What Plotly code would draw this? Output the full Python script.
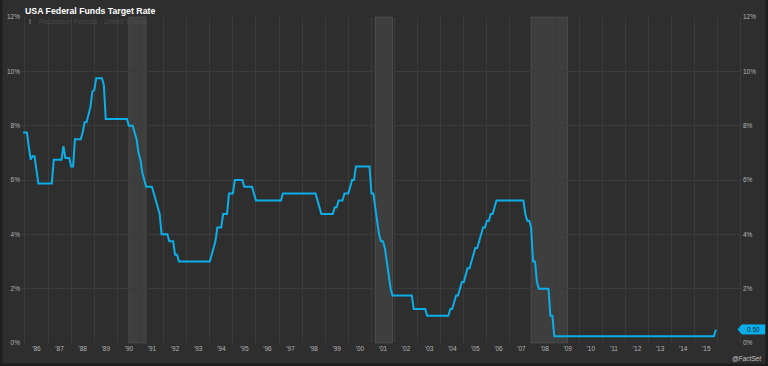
import pandas as pd
import plotly.graph_objects as go

# ---------------- data (monthly, first value = Dec 1985) ----------------
start_month = "1985-12-01"
rate_1980s = [
    7.75,                                                                        # Dec 1985
    7.75, 7.75, 7.25, 6.75, 6.875, 6.875, 6.375, 5.875, 5.875, 5.875, 5.875, 5.875,  # 1986
    5.875, 5.875, 5.875, 6.75, 6.75, 6.75, 6.75, 6.75, 7.25, 6.8125, 6.8125, 6.8125,  # 1987
    6.5, 6.5, 7.5, 7.5, 7.5, 7.5, 7.75, 8.125, 8.125, 8.375, 8.6875, 9.25,     # 1988
    9.3125, 9.75, 9.75, 9.75, 9.75, 9.5, 8.25, 8.25, 8.25, 8.25, 8.25, 8.25,   # 1989
]
rate_1990s = [
    8.25, 8.25, 8.25, 8.25, 8.25, 8.25, 8.0, 8.0, 8.0, 7.75, 7.5, 7.0,          # 1990
    6.75, 6.25, 6.0, 5.75, 5.75, 5.75, 5.75, 5.5, 5.25, 5.0, 4.75, 4.0,         # 1991
    4.0, 4.0, 4.0, 3.75, 3.75, 3.75, 3.25, 3.25, 3.0, 3.0, 3.0, 3.0,            # 1992
    3.0, 3.0, 3.0, 3.0, 3.0, 3.0, 3.0, 3.0, 3.0, 3.0, 3.0, 3.0,                 # 1993
    3.0, 3.25, 3.5, 3.75, 4.25, 4.25, 4.25, 4.75, 4.75, 4.75, 5.5, 5.5,         # 1994
    5.5, 6.0, 6.0, 6.0, 6.0, 6.0, 5.75, 5.75, 5.75, 5.75, 5.75, 5.5,            # 1995
    5.25, 5.25, 5.25, 5.25, 5.25, 5.25, 5.25, 5.25, 5.25, 5.25, 5.25, 5.25,     # 1996
    5.25, 5.25, 5.5, 5.5, 5.5, 5.5, 5.5, 5.5, 5.5, 5.5, 5.5, 5.5,               # 1997
    5.5, 5.5, 5.5, 5.5, 5.5, 5.5, 5.5, 5.5, 5.25, 5.0, 4.75, 4.75,              # 1998
    4.75, 4.75, 4.75, 4.75, 4.75, 5.0, 5.0, 5.25, 5.25, 5.25, 5.5, 5.5,         # 1999
]
rate_2000s = [
    5.5, 5.75, 6.0, 6.0, 6.5, 6.5, 6.5, 6.5, 6.5, 6.5, 6.5, 6.5,                # 2000
    5.5, 5.5, 5.0, 4.5, 4.0, 3.75, 3.75, 3.5, 3.0, 2.5, 2.0, 1.75,              # 2001
    1.75, 1.75, 1.75, 1.75, 1.75, 1.75, 1.75, 1.75, 1.75, 1.75, 1.25, 1.25,     # 2002
    1.25, 1.25, 1.25, 1.25, 1.25, 1.0, 1.0, 1.0, 1.0, 1.0, 1.0, 1.0,            # 2003
    1.0, 1.0, 1.0, 1.0, 1.0, 1.25, 1.25, 1.5, 1.75, 1.75, 2.0, 2.25,            # 2004
    2.25, 2.5, 2.75, 2.75, 3.0, 3.25, 3.5, 3.5, 3.75, 4.0, 4.25, 4.25,          # 2005
    4.5, 4.5, 4.75, 4.75, 5.0, 5.25, 5.25, 5.25, 5.25, 5.25, 5.25, 5.25,        # 2006
    5.25, 5.25, 5.25, 5.25, 5.25, 5.25, 5.25, 5.25, 4.75, 4.5, 4.5, 4.25,       # 2007
    3.0, 3.0, 2.25, 2.0, 2.0, 2.0, 2.0, 2.0, 2.0, 1.0, 1.0, 0.25,               # 2008
    0.25, 0.25, 0.25, 0.25, 0.25, 0.25, 0.25, 0.25, 0.25, 0.25, 0.25, 0.25,     # 2009
]
rate_2010s = [
    0.25, 0.25, 0.25, 0.25, 0.25, 0.25, 0.25, 0.25, 0.25, 0.25, 0.25, 0.25,     # 2010
    0.25, 0.25, 0.25, 0.25, 0.25, 0.25, 0.25, 0.25, 0.25, 0.25, 0.25, 0.25,     # 2011
    0.25, 0.25, 0.25, 0.25, 0.25, 0.25, 0.25, 0.25, 0.25, 0.25, 0.25, 0.25,     # 2012
    0.25, 0.25, 0.25, 0.25, 0.25, 0.25, 0.25, 0.25, 0.25, 0.25, 0.25, 0.25,     # 2013
    0.25, 0.25, 0.25, 0.25, 0.25, 0.25, 0.25, 0.25, 0.25, 0.25, 0.25, 0.25,     # 2014
    0.25, 0.25, 0.25, 0.25, 0.25, 0.25, 0.25, 0.25, 0.25, 0.25, 0.25, 0.5,      # 2015
]
recession_start = ["1990-07-01", "2001-03-01", "2007-12-01"]
recession_end = ["1991-03-31", "2001-11-30", "2009-06-30"]
years = list(range(1986, 2016))
year_labels = ["'" + str(y)[2:] for y in years]
y_ticks = [0, 2, 4, 6, 8, 10, 12]
title_text = "USA Federal Funds Target Rate"
legend_text = "Recession Periods - United States"
source_text = "@FactSet"

rate = rate_1980s + rate_1990s + rate_2000s + rate_2010s
dates = pd.date_range(start_month, periods=len(rate), freq="MS")

# ---------------- styling ----------------
BG = "#2e2e2e"
GRID = "#3b3b3b"
LINE = "#0aaee8"
TICK = "#b4b4b4"
FONT = "Arial, Liberation Sans, sans-serif"

fig = go.Figure()
fig.add_trace(go.Scatter(x=dates, y=rate, mode="lines",
                         line=dict(color=LINE, width=2), hoverinfo="skip",
                         showlegend=False))
# invisible trace for right axis
fig.add_trace(go.Scatter(x=[dates[0]], y=[rate[0]], yaxis="y2", mode="markers",
                         marker=dict(opacity=0), showlegend=False, hoverinfo="skip"))

shapes = []
for s, e in zip(recession_start, recession_end):
    shapes.append(dict(type="rect", xref="x", yref="paper", x0=s, x1=e, y0=0, y1=1,
                       fillcolor="rgba(255,255,255,0.08)",
                       line=dict(color="rgba(255,255,255,0.10)", width=1), layer="below"))
# legend icon
shapes.append(dict(type="rect", xref="paper", yref="paper", xsizemode="pixel", ysizemode="pixel",
                   xanchor=0, yanchor=1, x0=8, x1=10, y0=-2, y1=-7,
                   fillcolor="#555555", line=dict(width=0)))
# last value badge
shapes.append(dict(type="path", xref="paper", yref="y", xsizemode="pixel", ysizemode="pixel",
                   xanchor=1, yanchor=rate[-1],
                   path="M -4,0 L 0,4.5 L 23,4.5 L 23,-4.5 L 0,-4.5 Z",
                   fillcolor=LINE, line=dict(color=LINE, width=1)))
# outer frame
shapes.append(dict(type="rect", xref="paper", yref="paper", xsizemode="pixel", ysizemode="pixel",
                   xanchor=0, yanchor=0, x0=-20, x1=746, y0=-22, y1=348,
                   line=dict(color="#1e1e1e", width=3), fillcolor="rgba(0,0,0,0)"))

annotations = [
    dict(text="<b>" + title_text + "</b>", xref="paper", yref="paper", x=0, y=1,
         xanchor="left", yanchor="middle", xshift=2, yshift=6, showarrow=False,
         font=dict(family=FONT, size=8.75, color="#ffffff")),
    dict(text=legend_text, xref="paper", yref="paper", x=0, y=1,
         xanchor="left", yanchor="middle", xshift=16, yshift=-4.5, showarrow=False,
         font=dict(family=FONT, size=7, color="#4a4a4a")),
    dict(text=source_text, xref="paper", yref="paper", x=1, y=0,
         xanchor="right", yanchor="middle", xshift=22, yshift=-15, showarrow=False,
         font=dict(family=FONT, size=6.5, color="#c8c8c8", style="italic")),
    dict(text=f"{rate[-1]:.2f}", xref="paper", yref="y", x=1, y=rate[-1],
         xanchor="center", yanchor="middle", xshift=11.5, showarrow=False,
         font=dict(family=FONT, size=6.5, color="#0b2533")),
]

fig.update_layout(
    width=768, height=366,
    margin=dict(l=21, r=26, t=17, b=23, autoexpand=False),
    paper_bgcolor=BG, plot_bgcolor=BG,
    showlegend=False,
    shapes=shapes, annotations=annotations,
    xaxis=dict(
        type="date", automargin=False,
        range=["1985-10-30", "2017-01-17"],
        tickmode="array",
        tickvals=[f"{y}-07-02" for y in years],
        ticktext=year_labels,
        showgrid=False, zeroline=False, showline=False, ticks="",
        tickfont=dict(family=FONT, size=6.5, color=TICK),
        minor=dict(tickmode="array", tickvals=[f"{y}-01-01" for y in range(1986, 2018)],
                   showgrid=True, gridcolor=GRID, gridwidth=1, ticks=""),
    ),
    yaxis=dict(
        range=[0, 12], tickmode="array", tickvals=y_ticks, automargin=False,
        ticktext=[f"{v}%" for v in y_ticks],
        showgrid=True, gridcolor=GRID, gridwidth=1, zeroline=False, showline=False,
        ticks="", tickfont=dict(family=FONT, size=6.5, color=TICK),
    ),
    yaxis2=dict(
        range=[0, 12], overlaying="y", side="right", tickmode="array", tickvals=y_ticks,
        ticktext=[f"{v}%" for v in y_ticks], automargin=False,
        showgrid=False, zeroline=False, showline=False, ticks="",
        tickfont=dict(family=FONT, size=6.5, color=TICK),
    ),
)

fig.write_html("out.html")
